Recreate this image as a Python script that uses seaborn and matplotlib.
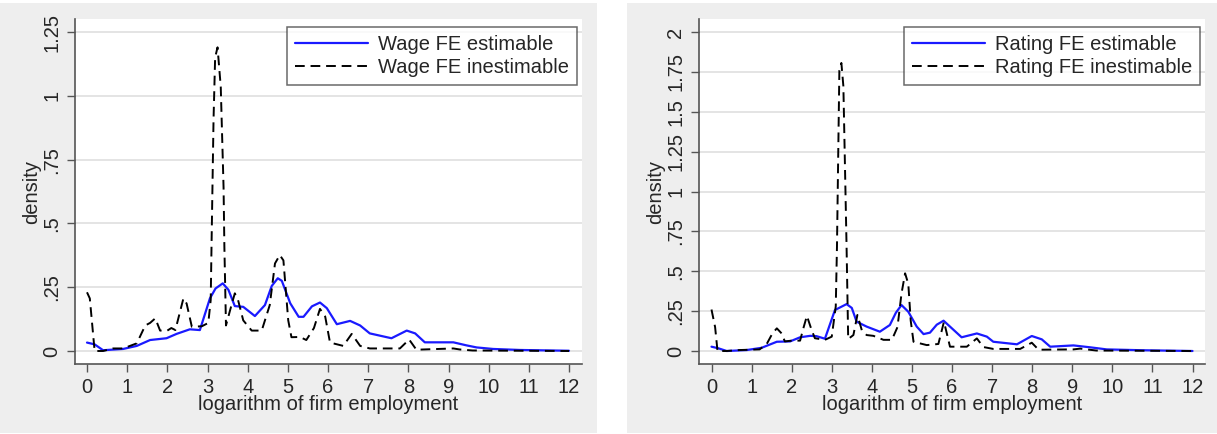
import pandas as pd
import seaborn as sns
import matplotlib
matplotlib.use("Agg")
import matplotlib.pyplot as plt
from matplotlib.patches import Rectangle

# values
wage_est_x = [0.0, 0.19, 0.4, 0.9, 1.24, 1.57, 1.98, 2.23, 2.56, 2.81, 3.06, 3.2, 3.38, 3.52, 3.68,
              3.89, 4.18, 4.43, 4.6, 4.75, 4.85, 5.06, 5.27, 5.39, 5.6, 5.8, 5.97, 6.22, 6.55, 6.8,
              7.04, 7.58, 7.96, 8.17, 8.41, 9.12, 9.45, 9.7, 10.11, 10.78, 12.0]
wage_est_y = [0.033, 0.026, 0.003, 0.008, 0.02, 0.043, 0.05, 0.067, 0.085, 0.082, 0.206, 0.245, 0.265,
              0.24, 0.176, 0.173, 0.137, 0.18, 0.255, 0.285, 0.275, 0.187, 0.134, 0.134, 0.175, 0.19,
              0.168, 0.105, 0.118, 0.10, 0.069, 0.05, 0.08, 0.069, 0.034, 0.034, 0.022, 0.014, 0.008,
              0.004, 0.001]

wage_inest_x = [0.0, 0.07, 0.19, 0.4, 0.65, 0.9, 1.24, 1.45, 1.57, 1.7, 1.82, 2.0, 2.1, 2.2, 2.4, 2.48,
                2.61, 2.86, 3.02, 3.08, 3.1, 3.15, 3.19, 3.25, 3.33, 3.4, 3.42, 3.46, 3.58, 3.68, 3.76,
                3.89, 4.1, 4.35, 4.55, 4.68, 4.8, 4.89, 5.01, 5.09, 5.3, 5.46, 5.65, 5.8, 5.93, 6.05,
                6.38, 6.59, 6.8, 7.04, 7.79, 8.02, 8.2, 9.12, 9.28, 9.6, 12.0]
wage_inest_y = [0.23, 0.206, 0.0, 0.0, 0.01, 0.01, 0.03, 0.1, 0.11, 0.128, 0.08, 0.08, 0.09, 0.082,
                0.206, 0.186, 0.095, 0.097, 0.11, 0.2, 0.41, 0.905, 1.15, 1.19, 1.035, 0.64, 0.41, 0.10,
                0.17, 0.226, 0.2, 0.12, 0.08, 0.08, 0.18, 0.343, 0.376, 0.355, 0.12, 0.054, 0.055,
                0.043, 0.09, 0.165, 0.135, 0.033, 0.02, 0.067, 0.02, 0.01, 0.01, 0.045, 0.005, 0.01,
                0.006, 0.002, 0.0]

rating_est_x = [0.0, 0.17, 0.38, 0.88, 1.25, 1.63, 1.96, 2.21, 2.46, 2.62, 2.83, 3.08, 3.37, 3.5, 3.62,
                3.87, 4.2, 4.45, 4.6, 4.74, 4.91, 5.12, 5.29, 5.45, 5.62, 5.79, 5.95, 6.24, 6.62, 6.87,
                7.03, 7.62, 7.99, 8.24, 8.45, 9.03, 9.45, 9.86, 10.7, 12.0]
rating_est_y = [0.027, 0.017, 0.0, 0.006, 0.02, 0.058, 0.06, 0.086, 0.095, 0.093, 0.077, 0.257, 0.294,
                0.27, 0.184, 0.153, 0.121, 0.163, 0.24, 0.288, 0.246, 0.153, 0.106, 0.115, 0.165, 0.19,
                0.153, 0.086, 0.11, 0.09, 0.058, 0.042, 0.094, 0.073, 0.027, 0.035, 0.023, 0.01, 0.005,
                0.0]

rating_inest_x = [0.0, 0.09, 0.15, 0.38, 0.7, 1.2, 1.38, 1.52, 1.63, 1.75, 1.83, 2.0, 2.21, 2.3, 2.38,
                  2.5, 2.58, 2.83, 3.0, 3.1, 3.13, 3.19, 3.24, 3.29, 3.37, 3.41, 3.54, 3.64, 3.75, 3.87,
                  4.04, 4.29, 4.5, 4.64, 4.74, 4.83, 4.91, 4.97, 5.04, 5.37, 5.66, 5.8, 5.95, 6.37,
                  6.62, 6.78, 7.03, 7.7, 7.99, 8.16, 9.03, 9.2, 9.6, 12.0]
rating_inest_y = [0.26, 0.15, 0.0, 0.0, 0.006, 0.01, 0.045, 0.11, 0.142, 0.11, 0.06, 0.065, 0.065, 0.15,
                  0.22, 0.13, 0.08, 0.07, 0.09, 0.28, 0.65, 1.76, 1.806, 1.66, 0.65, 0.075, 0.1, 0.226,
                  0.13, 0.1, 0.095, 0.07, 0.07, 0.15, 0.36, 0.487, 0.42, 0.19, 0.058, 0.037, 0.044,
                  0.184, 0.027, 0.027, 0.079, 0.025, 0.013, 0.013, 0.052, 0.008, 0.01, 0.015, 0.003, 0.0]

wage_yticks = [0, 0.25, 0.5, 0.75, 1, 1.25]
wage_ylabels = ['0', '.25', '.5', '.75', '1', '1.25']
rating_yticks = [0, 0.25, 0.5, 0.75, 1, 1.25, 1.5, 1.75, 2]
rating_ylabels = ['0', '.25', '.5', '.75', '1', '1.25', '1.5', '1.75', '2']
xticks = list(range(13))

sns.set_style("white")
plt.rcParams['font.family'] = ['Liberation Sans', 'DejaVu Sans']
FS = 14.5

W, H = 1217, 434
fig = plt.figure(figsize=(W / 100, H / 100), dpi=100, facecolor='white')

# grey panel backgrounds (Stata look), kept behind the axes
fig.patches.append(Rectangle((0 / W, 1 - 433 / H), 597 / W, 430 / H, transform=fig.transFigure,
                             facecolor='#eeeeee', edgecolor='none', zorder=-10))
fig.patches.append(Rectangle((627 / W, 1 - 433 / H), (W - 627) / W, 430 / H, transform=fig.transFigure,
                             facecolor='#eeeeee', edgecolor='none', zorder=-10))


def make_panel(left_px, right_px, est_x, est_y, inest_x, inest_y, name, yticks, ylabels, ymax, x0_px, x12_px):
    top_px, bot_px = 19, 364
    ax = fig.add_axes([left_px / W, 1 - bot_px / H, (right_px - left_px) / W, (bot_px - top_px) / H])
    ax.set_facecolor('white')

    df_est = pd.DataFrame({'x': est_x, 'y': est_y})
    df_inest = pd.DataFrame({'x': inest_x, 'y': inest_y})
    sns.lineplot(data=df_est, x='x', y='y', ax=ax, color='#1a1aff', linewidth=1.6,
                 label=f'{name} FE estimable', sort=False)
    sns.lineplot(data=df_inest, x='x', y='y', ax=ax, color='black', linewidth=1.4,
                 label=f'{name} FE inestimable', sort=False)
    ax.lines[-1].set_dashes((5, 3))

    # axis limits so that tick 0 and 12 land where they are in the picture
    ppu = (x12_px - x0_px) / 12
    ax.set_xlim(-(x0_px - left_px) / ppu, 12 + (right_px - x12_px) / ppu)
    ypu = (351 - 32) / ymax
    ax.set_ylim(-(bot_px - 351) / ypu, ymax + (32 - top_px) / ypu)

    ax.set_xticks(xticks)
    ax.set_xticklabels([str(t) for t in xticks], fontsize=FS)
    ax.set_yticks(yticks)
    ax.set_yticklabels(ylabels, fontsize=FS, rotation=90, va='center')
    ax.tick_params(axis='both', direction='out', length=6, width=1, color='#555555',
                   left=True, bottom=True)
    ax.tick_params(axis='x', pad=4)
    ax.tick_params(axis='y', pad=4)
    ax.yaxis.grid(True, color='#e4e4e4', linewidth=1.4)
    ax.xaxis.grid(False)
    ax.set_axisbelow(True)

    for s in ['top', 'right']:
        ax.spines[s].set_visible(False)
    for s in ['left', 'bottom']:
        ax.spines[s].set_color('#555555')
        ax.spines[s].set_linewidth(1.2)

    ax.set_xlabel('logarithm of firm employment', fontsize=FS, labelpad=-1)
    ax.set_ylabel('density', fontsize=FS, labelpad=1)

    leg = ax.legend(loc='upper right', bbox_to_anchor=(0.99, 0.977), fontsize=FS, frameon=True,
                    fancybox=False, handlelength=3.6, handletextpad=0.5, borderpad=0.4,
                    labelspacing=0.2, borderaxespad=0)
    leg.get_frame().set_edgecolor('#444444')
    leg.get_frame().set_linewidth(1.1)
    leg.legend_handles[1].set_dashes((5, 3))
    return ax


make_panel(75, 582, wage_est_x, wage_est_y, wage_inest_x, wage_inest_y, 'Wage',
           wage_yticks, wage_ylabels, 1.25, 87, 569)
make_panel(699, 1205, rating_est_x, rating_est_y, rating_inest_x, rating_inest_y, 'Rating',
           rating_yticks, rating_ylabels, 2.0, 711.5, 1192.5)

fig.savefig('out.png', dpi=100, facecolor='white')
